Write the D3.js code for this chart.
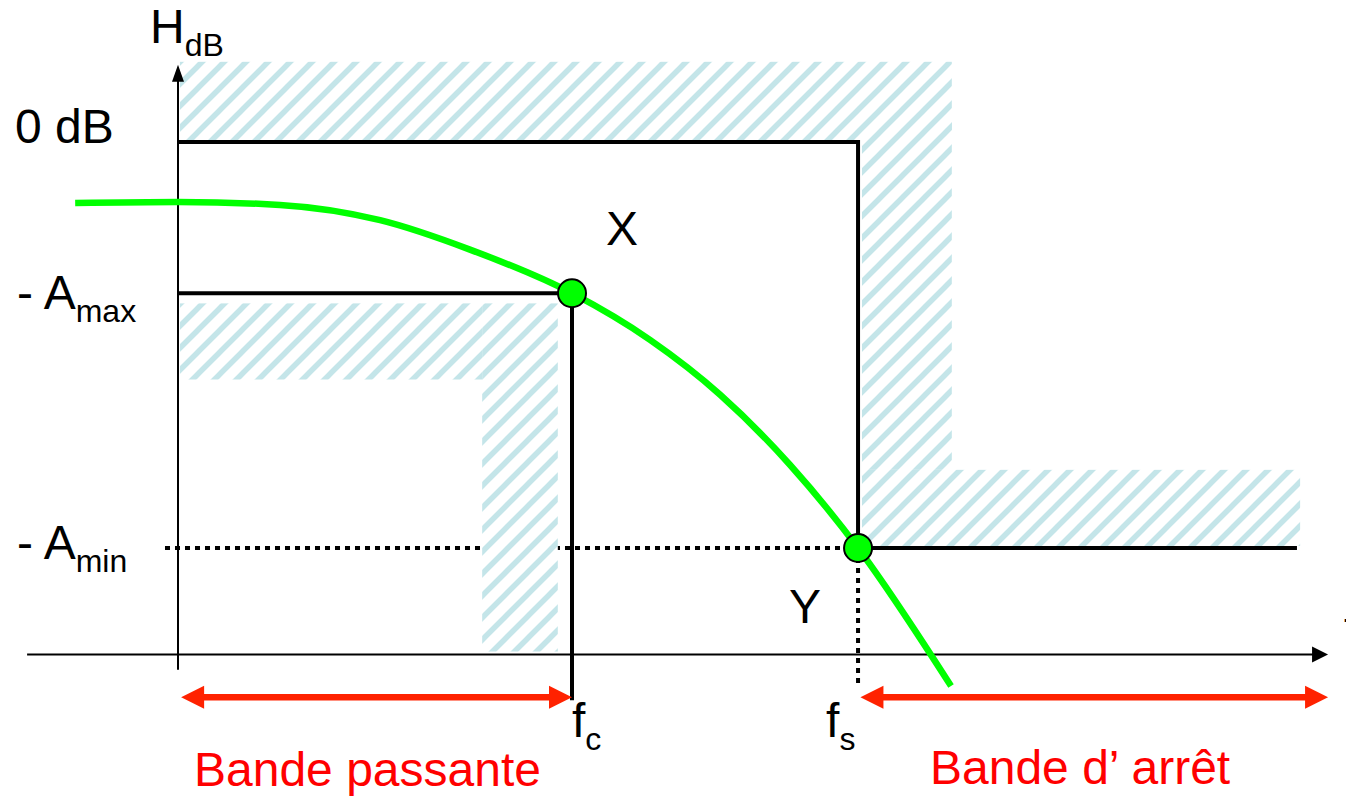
<!DOCTYPE html>
<html>
<head>
<meta charset="utf-8">
<script src="https://cdn.jsdelivr.net/npm/d3@7"></script>
<style>
body { margin: 0; background: #fff; }
svg { display: block; font-family: "Liberation Sans", Arial, sans-serif; }
</style>
</head>
<body>
<div id="chart"></div>
<script>
// frequency in units of fc, gain in dB
var fc = 1.0, fs = 1.726;
var Amax = 14.9, Amin = 40;
var curveF  = [-0.261, 0, 0.259, 0.513, 0.741, 1.0, 1.198, 1.376, 1.553, 1.726, 1.962];
var curveDB = [-6.0, -5.9, -6.2, -7.7, -10.6, -14.9, -19.5, -24.9, -31.8, -40.0, -53.6];
var points = [{name: 'X', f: fc, db: -Amax}, {name: 'Y', f: fs, db: -Amin}];
// hatched (forbidden) zones: f0, f1, dbTop, dbBottom
var hatchF0  = [0.005, 1.736, 1.736, 0.005, 0.772];
var hatchF1  = [1.964, 1.964, 2.848, 0.772, 0.964];
var hatchTop = [7.9, 2.0, -32.3, -15.9, -15.9];
var hatchBot = [0, -32.3, -39.8, -23.4, -50.2];
var axisF = [-0.383, 2.919], axisDB = -50.5, axisTopDB = 7.6, axisBottomDB = -52;
var stopEndF = 2.840;

var W = 1346, H = 798;
var svg = d3.select('#chart').append('svg').attr('width', W).attr('height', H);
var x = d3.scaleLinear().domain([0, 1]).range([178, 572]);
var y = d3.scaleLinear().domain([0, -40]).range([142, 548]);

var defs = svg.append('defs');
var pat = defs.append('pattern').attr('id', 'hatch').attr('patternUnits', 'userSpaceOnUse')
  .attr('width', 22).attr('height', 22);
pat.append('rect').attr('width', 22).attr('height', 22).attr('fill', '#fff');
pat.append('path').attr('d', 'M-6,6 L6,-6 M0,22 L22,0 M16,28 L28,16')
  .attr('stroke', '#c4e5e9').attr('stroke-width', 5.5);

// dotted -Amin guide and fs drop line
svg.append('line').attr('x1', x(-0.033)).attr('x2', x(fs)).attr('y1', y(-Amin)).attr('y2', y(-Amin))
  .attr('stroke', '#000').attr('stroke-width', 4).attr('stroke-dasharray', '5,5');
svg.append('line').attr('x1', x(fs)).attr('x2', x(fs)).attr('y1', y(-Amin)).attr('y2', y(-53.5))
  .attr('stroke', '#000').attr('stroke-width', 4).attr('stroke-dasharray', '5,5');

// hatched zones
hatchF0.forEach(function(f0, i) {
  svg.append('rect').attr('x', x(f0)).attr('y', y(hatchTop[i]))
    .attr('width', x(hatchF1[i]) - x(f0)).attr('height', y(hatchBot[i]) - y(hatchTop[i]))
    .attr('fill', 'url(#hatch)');
});

// axes
svg.append('line').attr('x1', x(axisF[0])).attr('x2', x(axisF[1]) - 14).attr('y1', y(axisDB)).attr('y2', y(axisDB))
  .attr('stroke', '#000').attr('stroke-width', 2);
svg.append('path').attr('d', 'M' + x(axisF[1]) + ',' + y(axisDB) + ' l-16,-8 l0,16 z').attr('fill', '#000');
svg.append('line').attr('x1', x(0)).attr('x2', x(0)).attr('y1', y(axisBottomDB)).attr('y2', y(axisTopDB) + 15)
  .attr('stroke', '#000').attr('stroke-width', 2);
svg.append('path').attr('d', 'M' + x(0) + ',' + y(axisTopDB) + ' l-6,17 l12,0 z').attr('fill', '#000');

// template lines
var tpl = svg.append('g').attr('fill', 'none').attr('stroke', '#000').attr('stroke-width', 4)
  .attr('stroke-linejoin', 'miter');
tpl.append('path').attr('d', d3.line()([[x(0), y(0)], [x(fs), y(0)], [x(fs), y(-Amin)], [x(stopEndF), y(-Amin)]]));
tpl.append('path').attr('d', d3.line()([[x(0), y(-Amax)], [x(fc), y(-Amax)], [x(fc), y(-55)]]));

// response curve
var curveData = curveF.map(function(f, i) { return [f, curveDB[i]]; });
svg.append('path').datum(curveData)
  .attr('fill', 'none').attr('stroke', '#00ff00').attr('stroke-width', 6.5)
  .attr('d', d3.line().x(function(d) { return x(d[0]); }).y(function(d) { return y(d[1]); }).curve(d3.curveMonotoneX));

svg.selectAll('circle.pt').data(points).enter().append('circle')
  .attr('class', 'pt')
  .attr('cx', function(d) { return x(d.f); })
  .attr('cy', function(d) { return y(d.db); })
  .attr('r', 14)
  .attr('fill', '#00ff00').attr('stroke', '#000').attr('stroke-width', 2);

// red double arrows
function doubleArrow(x1, x2, yy) {
  var g = svg.append('g').attr('fill', '#ff2200');
  g.append('line').attr('x1', x1 + 20).attr('x2', x2 - 20).attr('y1', yy).attr('y2', yy)
    .attr('stroke', '#ff2200').attr('stroke-width', 6.5);
  g.append('path').attr('d', 'M' + x1 + ',' + yy + ' l23,-11.5 l0,23 z');
  g.append('path').attr('d', 'M' + x2 + ',' + yy + ' l-23,-11.5 l0,23 z');
}
doubleArrow(x(0.008), x(fc), y(-54.7));
doubleArrow(x(fs + 0.006), x(axisF[1]), y(-54.7));

// labels
function label(tx, ty, main, sub, color) {
  var t = svg.append('text').attr('x', tx).attr('y', ty).attr('font-size', 48).attr('fill', color || '#000');
  t.append('tspan').text(main);
  if (sub) t.append('tspan').attr('font-size', 32).attr('dy', 13).text(sub);
  return t;
}
label(x(0) - 28, 43, 'H', 'dB');
label(15, y(0) + 1, '0 dB');
label(17, y(-Amax) + 16, '- A', 'max');
label(17, y(-Amin) + 11, '- A', 'min');
label(x(fc) + 34, y(-Amax) - 48, 'X');
label(x(fs) - 69, y(-Amin) + 75, 'Y');
label(x(fc), 737, 'f', 'c');
label(x(fs) - 32, 737, 'f', 's');
label(x(axisF[1]) + 16, 645, 'f');
label(194, 786, 'Bande passante', null, '#ff0000');
var t = svg.append('text').attr('x', 930).attr('y', 784).attr('font-size', 48).attr('fill', '#ff0000');
t.append('tspan').text('Bande d’');
t.append('tspan').attr('dx', 12).text('arrêt');
</script>
</body>
</html>
